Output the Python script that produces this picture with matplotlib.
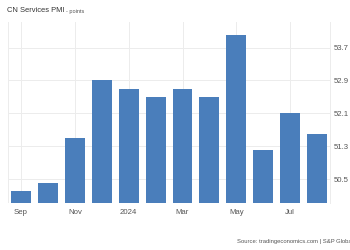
import matplotlib.pyplot as plt

plt.rcParams['font.family'] = ['Liberation Sans', 'DejaVu Sans']

months = ['Sep', 'Oct', 'Nov', 'Dec', '2024', 'Feb', 'Mar', 'Apr', 'May', 'Jun', 'Jul', 'Aug']
pmi = [50.2, 50.4, 51.5, 52.9, 52.7, 52.5, 52.7, 52.5, 54.0, 51.2, 52.1, 51.6]
yticks = [50.5, 51.3, 52.1, 52.9, 53.7]

fig = plt.figure(figsize=(3.5, 2.5), dpi=100)
ax = fig.add_axes([0.023, 0.188, 0.92, 0.724])

x = list(range(len(pmi)))
ax.bar(x, pmi, width=0.74, color='#4a7ebb', zorder=2)

ax.set_xlim(-0.48, 11.48)
ax.set_ylim(49.92, 54.32)

# every second month gets a label
xt = x[::2]
ax.set_xticks(xt)
ax.set_xticklabels([months[i] for i in xt])
ax.set_yticks(yticks)
ax.set_yticklabels(['%.1f' % v for v in yticks])
ax.yaxis.tick_right()

ax.tick_params(length=0, labelsize=5.6, colors='#555555', pad=4)
ax.tick_params(axis='y', pad=2.5)
ax.grid(True, color='#ececec', linewidth=0.7, zorder=0)
for s in ['top', 'bottom', 'left']:
    ax.spines[s].set_visible(False)
ax.spines['right'].set_color('#ececec')
ax.spines['right'].set_linewidth(0.7)
ax.axvline(-0.48, color='#ececec', linewidth=0.7, zorder=0)

fig.text(0.02, 0.958, 'CN Services PMI', fontsize=5.4, color='#333333', va='center')
fig.text(0.19, 0.956, '- points', fontsize=4.0, color='#555555', va='center')
fig.text(0.677, 0.035, 'Source: tradingeconomics.com | S&P Global', fontsize=4.2,
         color='#555555', ha='left', va='center')

fig.savefig('out.png', dpi=100)
